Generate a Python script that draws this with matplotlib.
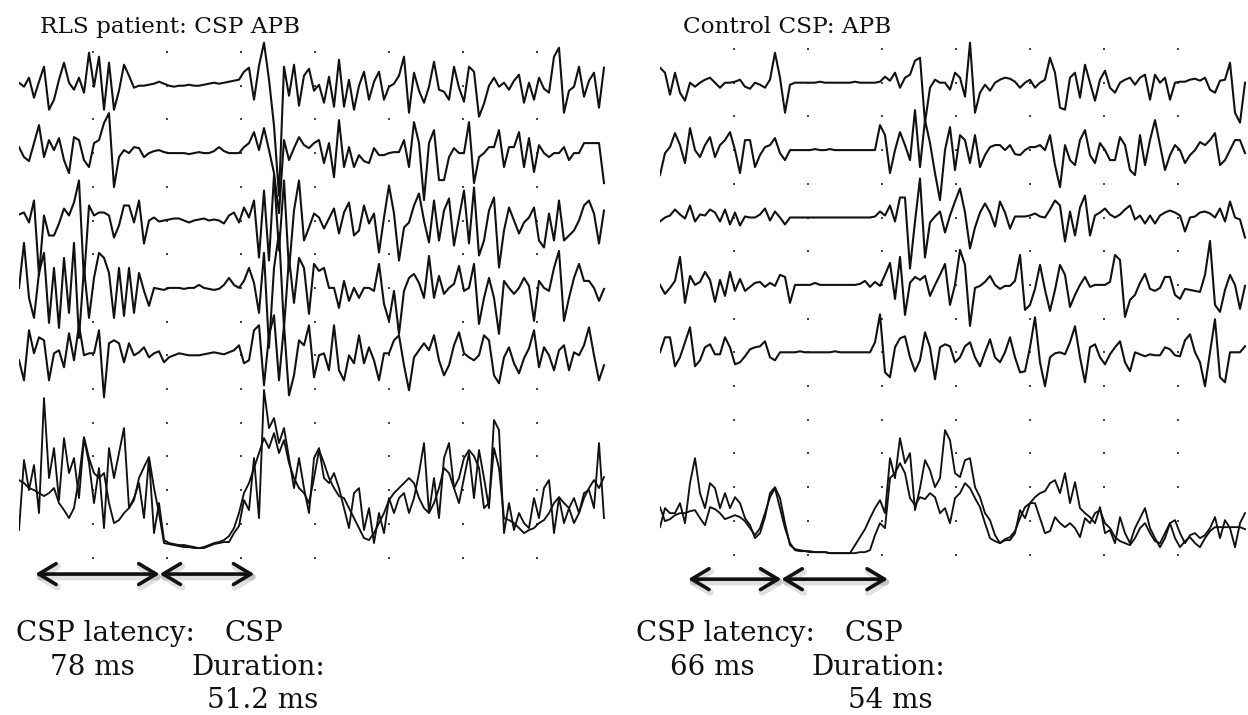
import numpy as np
import matplotlib
matplotlib.use("Agg")
import matplotlib.pyplot as plt
import matplotlib.patheffects as pe
from matplotlib.patches import FancyArrowPatch

W, H = 1248, 715
DIV_MS = 50.0            # ms per horizontal grid division
DT = DIV_MS / 74 * 5     # sampling interval of the sweeps, ms
ROW = 33.7               # µV per vertical grid row
TRACE_ROWS = [1, 3, 5, 7, 9]

# ---- RLS patient, APB: five raw sweeps (µV, offset from each sweep's baseline)
rls_sweep1 = [3, -1, 8, -12, 4, 19, -24, -14, 6, 23,
              3, -4, 8, -7, 33, -1, 29, -24, 23, -24,
              -5, 21, 10, -2, 0, 0, 1, 2, 4, 2,
              0, -1, 0, 0, 1, 0, 0, 1, 2, 3,
              2, 3, 4, 5, 6, 14, 18, -14, 20, 43,
              6, -40, -110, 19, -10, 21, -20, 10, 17, -5,
              1, -17, 9, -21, 26, -21, 6, -24, 0, 14,
              -14, 4, 14, -14, -1, 2, 10, 29, -27, 13,
              -5, -17, -1, 24, -4, -6, -14, 19, -2, -16,
              19, 14, -31, -18, 0, 8, -1, 3, -4, 5,
              11, -17, 3, -14, 8, -3, -7, 29, 38, -27,
              -5, -1, 19, -11, 5, 13, -22, 18]
rls_sweep2 = [6, -4, -8, 10, 28, -4, 13, 3, 15, -7,
              -20, 16, 13, -7, -14, 10, 13, 30, 40, -34,
              -4, 3, 0, 6, 5, -4, 0, 2, 3, 1,
              0, 0, 0, 0, -1, 0, 1, 0, 0, 2,
              6, 2, 0, 0, 0, 6, 10, 21, 3, 25,
              3, -20, -60, 13, -7, 5, 16, 8, 5, 10,
              13, -10, 10, -24, 33, -14, 6, -14, -2, -8,
              -10, 5, -2, -2, 0, 1, 1, 13, -14, 31,
              10, -47, 10, 23, -27, -27, -4, 5, 0, 0,
              31, -30, -4, 0, 6, 6, 23, -14, 6, 6,
              21, -14, 15, -19, 8, 0, -4, 0, 0, 6,
              -7, 0, 0, 10, 10, 10, 10, -30]
rls_sweep3 = [6, 8, -2, 20, -55, 5, -15, -15, -3, 12,
              5, 18, 40, -60, 15, 5, 8, 8, 5, -17,
              -5, 15, 15, -2, 20, -23, 0, 3, -1, 0,
              1, 2, 2, 0, -2, 0, 1, 2, 0, 1,
              0, -3, 5, 8, -2, 13, 3, 20, -37, 30,
              -40, 45, -30, 40, -50, 10, 40, -20, -7, 7,
              3, -8, 2, 12, -13, 8, 18, -15, -10, 15,
              -3, 7, -32, 3, 35, 7, -40, -7, -2, 15,
              27, 0, -22, 20, -20, 10, 22, -25, 3, 30,
              -23, 33, -35, -20, 10, 23, -47, -10, 13, 0,
              -13, -2, 3, 13, -20, -27, 7, -20, 20, -20,
              -15, -10, 0, 15, 20, 7, -23, 10]
rls_sweep4 = [0, 45, -10, -30, 15, 35, -35, 20, -40, 30,
              -25, 45, -50, 20, -30, 10, 35, 30, 15, -30,
              20, -28, 20, -25, 15, -3, -18, 0, -1, -2,
              0, 0, 0, -1, 0, 0, 3, 0, -1, -2,
              -1, 3, 10, 3, 0, 7, 20, 5, -25, 35,
              -60, 20, 55, -40, 30, -15, 30, 20, -26, 24,
              17, 20, 0, 0, -20, 7, -13, 0, -10, 0,
              0, -3, 24, -16, -33, -3, -46, -3, 10, 14,
              5, -10, 32, -10, 12, -6, 0, 4, 22, -3,
              0, 24, -36, -10, 10, -10, -46, 7, 0, -6,
              0, 10, 2, -33, 7, 0, -3, 20, 37, -33,
              -10, 10, 24, 7, 7, 0, -13, -1]
rls_sweep5 = [-5, -25, 25, 2, 18, 15, -25, 2, 5, -12,
              22, -5, 30, 0, 2, 2, 25, -42, 12, 15,
              12, -7, 12, 0, 3, 8, -2, 2, 4, -7,
              -2, 0, 2, 1, 0, 0, 0, 1, 2, 3,
              2, 1, 3, 5, 10, -8, -5, 25, 30, -30,
              20, 40, -25, 30, -40, -20, 15, 10, 30, -22,
              0, 2, -15, 30, -15, -25, 0, -8, 20, -8,
              8, -5, -25, 2, 2, 15, 20, -10, -35, -2,
              5, 12, 5, 20, -5, -20, -10, 10, 23, 2,
              -2, -5, 0, 20, 15, -20, -28, -2, 8, -8,
              -18, -3, 7, 25, -12, 8, 0, -15, 5, 10,
              -15, 3, 0, 10, 28, 0, -25, -10]
# rectified, overlaid sweeps (µV above zero)
rls_rect_a = [18, 88, 58, 83, 35, 150, 70, 100, 48, 110,
              75, 90, 50, 110, 85, 45, 80, 20, 100, 70,
              95, 120, 40, 50, 65, 30, 90, 15, 45, 8,
              5, 4, 3, 3, 2, 1, 0, 0, 2, 4,
              5, 6, 6, 15, 22, 48, 38, 90, 30, 158,
              120, 130, 105, 120, 90, 60, 90, 60, 35, 90,
              100, 70, 65, 75, 60, 40, 20, 55, 60, 18,
              40, 5, 35, 15, 50, 35, 50, 55, 35, 50,
              75, 105, 35, 70, 30, 90, 105, 60, 45, 70,
              95, 50, 98, 70, 40, 128, 118, 15, 45, 18,
              35, 25, 20, 50, 30, 60, 68, 15, 50, 25,
              40, 50, 35, 55, 58, 40, 105, 30]
rls_rect_b = [68, 65, 60, 58, 55, 52, 55, 60, 45, 38,
              30, 40, 70, 111, 90, 75, 70, 75, 45, 25,
              28, 35, 40, 48, 70, 81, 91, 60, 35, 5,
              4, 3, 2, 1, 1, 0, 0, 1, 3, 5,
              6, 8, 12, 20, 35, 55, 65, 80, 95, 110,
              100, 115, 95, 108, 85, 70, 60, 55, 45, 70,
              98, 85, 70, 60, 52, 50, 40, 30, 20, 10,
              8, 15, 25, 35, 48, 55, 60, 65, 70, 65,
              50, 40, 35, 45, 60, 80, 75, 60, 70, 90,
              98, 92, 80, 40, 45, 100, 80, 30, 28, 25,
              20, 15, 18, 20, 25, 28, 35, 45, 51, 45,
              40, 25, 35, 50, 60, 68, 60, 71]

# ---- Control, APB
ctl_sweep1 = [15, 10, -12, 10, -10, -18, 0, -4, 0, 3,
              5, 0, -5, 0, 0, 1, 3, -4, -6, 0,
              -2, -5, 3, 30, 5, -30, -2, 0, 0, 0,
              0, 0, 1, 0, 0, 0, 0, 0, 0, 1,
              0, 0, 0, 0, 1, 6, 2, 10, -5, 5,
              8, 22, 25, -40, -5, 3, 0, 0, -7, 10,
              5, -14, 40, -30, -10, -2, -8, 0, 3, 5,
              4, 1, -5, 0, 3, -5, 0, 3, 25, 10,
              -25, -27, 5, 10, -15, 18, 0, -18, 3, 12,
              -5, -10, 0, 3, 5, -2, 5, 8, -17, 8,
              0, 5, -17, 0, 1, 1, 3, 4, 2, 5,
              -7, -10, 2, 3, 20, -30, -40, 0]
ctl_sweep2 = [-25, -3, 3, 17, 5, -13, 22, 0, -7, 5,
              13, -7, 5, 10, 18, 0, -23, 10, 10, -17,
              -5, 3, 5, 12, -3, -10, 0, 0, 0, 0,
              0, 1, 0, 0, 1, 0, 0, 0, 0, 0,
              0, 0, 0, 0, 25, 15, -23, 0, 18, 5,
              -10, 40, -17, 30, 7, -23, -50, 0, 23, -20,
              15, 10, -13, 15, -17, -5, 3, 5, 5, 0,
              5, -4, -5, 0, 3, 3, 5, 0, 15, -15,
              -37, 5, -10, -15, 10, 20, -5, -13, 7, 0,
              -10, -10, 13, 5, -20, -25, 15, -15, 10, 30,
              5, -20, -5, 5, 0, -13, -5, 0, 8, 5,
              10, 17, -15, -10, 0, 10, 10, -3]
ctl_sweep3 = [-4, 0, 2, 8, 3, -1, 12, -4, 3, 2,
              8, 5, -4, 8, -7, 5, -8, 1, 0, 0,
              3, 9, -3, 6, 0, -7, 0, 0, 0, 0,
              0, 0, 0, 0, 0, 0, 0, 0, 0, 0,
              0, 0, 0, 1, 6, 2, 12, -4, 20, 20,
              -51, -4, 39, -40, -5, 1, 6, -15, 2, 16,
              29, 5, -31, -10, 5, 14, 5, -9, 16, 5,
              -11, 1, 1, 1, 2, 4, 1, 0, 8, 17,
              12, -24, 6, -18, 10, 22, -18, 2, 5, 9,
              3, 0, 3, 8, 12, -2, 2, -6, 2, -6,
              2, 5, 7, 5, 2, -14, 0, 1, 5, 6,
              4, 0, 9, -4, 16, 0, -2, -20]
ctl_sweep4 = [0, -9, -3, 4, 28, -18, 9, 0, 3, 13,
              5, -17, 5, -11, 13, -6, 6, -6, -2, 2,
              3, -2, 2, -1, 10, 8, -18, 0, 0, 0,
              0, 2, 0, 0, 0, 0, 0, 0, 0, 0,
              1, 4, -2, 3, -1, 10, 22, -14, 28, -30,
              2, 8, 5, 9, -11, 0, 10, 21, -20, 0,
              35, 20, -41, -3, -1, 3, 9, 0, -4, -1,
              -1, 4, 30, -25, -20, -4, 20, -5, -26, -5,
              20, 10, -22, -10, 0, 8, -2, 0, 0, 0,
              3, 30, 25, -32, -15, -10, 2, 11, -4, -6,
              -3, 8, 8, -10, -14, -4, -5, -6, -7, 10,
              44, -20, -27, -5, 10, 0, -24, -1]
ctl_sweep5 = [0, 15, 15, -14, -5, 10, 25, -14, -8, 5,
              8, -2, -2, 15, 5, -12, -10, -4, 3, 5,
              6, 11, -5, -8, 0, 0, 0, 0, 1, 0,
              0, 0, 0, 0, 0, 1, 0, 0, 0, 0,
              0, 0, 0, 10, 38, -20, -25, 5, 14, 16,
              -5, -19, -8, 20, 5, -27, 5, 8, 6, -10,
              -5, 6, 10, -5, -14, 0, 13, -5, -10, 0,
              15, -5, -20, -19, 5, 35, -10, -34, -5, -1,
              0, -2, 10, 26, -5, -30, 5, 8, -5, -12,
              -2, 5, 11, -10, -19, 0, -2, -4, -2, -3,
              -3, 5, 3, -3, -4, 12, 18, 0, -10, -34,
              0, 33, -25, -30, 0, 0, 0, 6]
ctl_rect_a = [26, 45, 40, 40, 50, 30, 70, 95, 60, 45,
              70, 65, 45, 60, 45, 56, 50, 35, 28, 15,
              20, 36, 60, 66, 55, 30, 8, 4, 3, 2,
              2, 1, 1, 1, 0, 0, 0, 0, 0, 8,
              16, 24, 35, 45, 53, 40, 95, 75, 115, 90,
              100, 43, 65, 93, 83, 66, 75, 123, 113, 80,
              76, 93, 95, 66, 56, 40, 33, 18, 10, 13,
              13, 20, 43, 35, 50, 56, 60, 62, 70, 73,
              60, 80, 50, 71, 45, 40, 36, 30, 46, 20,
              23, 10, 36, 20, 10, 25, 35, 45, 25, 15,
              6, 15, 30, 33, 20, 10, 18, 20, 15, 18,
              25, 36, 15, 33, 25, 6, 30, 40]
ctl_rect_b = [46, 32, 34, 38, 40, 40, 42, 43, 35, 28,
              46, 44, 40, 34, 36, 38, 36, 32, 25, 18,
              25, 40, 56, 65, 45, 25, 10, 3, 2, 2,
              1, 1, 1, 1, 0, 0, 0, 0, 0, 0,
              1, 1, 3, 18, 30, 25, 75, 80, 90, 80,
              55, 48, 56, 54, 60, 56, 40, 45, 30, 55,
              60, 70, 65, 55, 46, 30, 15, 12, 10, 14,
              16, 22, 35, 46, 50, 50, 35, 20, 22, 36,
              30, 26, 30, 25, 16, 35, 30, 40, 43, 30,
              25, 16, 12, 10, 8, 15, 25, 30, 20, 12,
              10, 20, 30, 15, 6, 12, 16, 10, 6, 15,
              22, 26, 26, 26, 26, 26, 26, 24]

titles = ["RLS patient: CSP APB", "Control CSP: APB"]
latency_txt = ["78 ms", "66 ms"]
duration_txt = ["51.2 ms", "54 ms"]
# arrow marks (ms): stimulus, end of latency, end of silent period
arrow_marks = [(11, 95, 159), (19, 82, 154)]

plt.rcParams['font.family'] = ['DejaVu Serif']
fig = plt.figure(figsize=(W / 100, H / 100), dpi=100)
fig.patch.set_facecolor('white')


def px_text(x, y, s, size, ha='center'):
    fig.text(x / W, 1 - y / H, s, fontsize=size, ha=ha, va='baseline', color='#111')


def panel(left_px, top_px, sweeps, rect_a, rect_b, floor_row, marks):
    ax = fig.add_axes([left_px / W, 0, 8 * 74 / W, 1])
    ax.set_xlim(0, 8 * DIV_MS)
    ax.set_ylim(-(H - top_px), top_px)
    ax.axis('off')
    gx, gy = np.meshgrid(np.arange(1, 8) * DIV_MS, -np.arange(0, 16) * ROW)
    ax.scatter(gx.ravel(), gy.ravel(), s=3, marker='s', c='#444', lw=0, zorder=1)
    for k, sw in enumerate(sweeps):
        t = np.arange(len(sw)) * DT
        ax.plot(t, np.asarray(sw) - TRACE_ROWS[k] * ROW, color='#111', lw=1.5,
                zorder=3)
    floor = -floor_row * ROW
    for r in (rect_a, rect_b):
        t = np.arange(len(r)) * DT
        ax.plot(t, floor + np.asarray(r), color='#111', lw=1.35, zorder=3)
    y_arr = floor - 26
    for a, b in ((marks[0], marks[1]), (marks[1], marks[2])):
        arr = FancyArrowPatch((a, y_arr), (b, y_arr),
                              arrowstyle='<->,head_length=0.5,head_width=0.3',
                              mutation_scale=25, lw=2.6, color='#111',
                              shrinkA=0, shrinkB=0, zorder=4)
        arr.set_path_effects([pe.SimpleLineShadow(offset=(1, -2), shadow_color='k',
                                                  alpha=0.12, linewidth=5),
                              pe.Normal()])
        ax.add_patch(arr)
    return ax


panel(19, 52, [rls_sweep1, rls_sweep2, rls_sweep3, rls_sweep4, rls_sweep5],
      rls_rect_a, rls_rect_b, 14.72, arrow_marks[0])
panel(660, 49, [ctl_sweep1, ctl_sweep2, ctl_sweep3, ctl_sweep4, ctl_sweep5],
      ctl_rect_a, ctl_rect_b, 14.96, arrow_marks[1])

px_text(40, 33, titles[0], 16.7, ha='left')
px_text(683, 33, titles[1], 16.7, ha='left')

for cx, (lat, dur) in zip((0, 620), zip(latency_txt, duration_txt)):
    px_text(cx + 105, 641, "CSP latency:", 20)
    px_text(cx + 92, 675, lat, 20)
    px_text(cx + 254, 641, "CSP", 20)
    px_text(cx + 258, 675, "Duration:", 20)
    px_text(cx + 263 + (7 if cx else 0), 708, dur, 20)

fig.savefig("out.png", dpi=100, facecolor='white')
